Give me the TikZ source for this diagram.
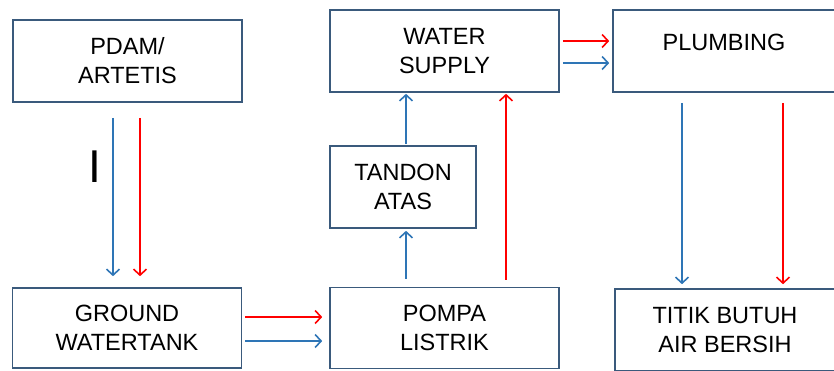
\documentclass[tikz,border=0pt]{standalone}
\usepackage{fontspec}
\setmainfont{Liberation Sans}
\usepackage{tikz}
\usetikzlibrary{arrows.meta,positioning}
\definecolor{boxc}{HTML}{3A5A7C}
\definecolor{bluec}{HTML}{2E75B6}
\definecolor{redc}{HTML}{FF0000}
\tikzset{
  unit/.style   ={draw=boxc,line width=1.6pt,align=center,inner sep=0pt,
                  font=\fontsize{23.5}{29}\selectfont},
  wide/.style   ={unit,minimum width=229pt,minimum height=82pt},
  flow/.style   ={-{Straight Barb[length=6pt,width=13pt]},line width=1.6pt},
  cold/.style   ={flow,bluec},
  hot/.style    ={flow,redc},
}

\begin{document}
\begin{tikzpicture}[x=1pt,y=-1pt]
    \useasboundingbox (0,0) rectangle (834,370);

    % left column
    \node[wide] (pdam)   at (127.5, 61) {PDAM/\\ARTETIS};
    \node[wide,minimum height=80pt] (ground) at (127,328) {GROUND\\WATERTANK};
    \node[font=\fontsize{46}{46}\selectfont] (mark) at (95,167) {I};
    % middle column
    \node[wide] (supply) at (444.5, 51) {WATER\\SUPPLY};
    \node[unit,minimum width=146pt,minimum height=82pt] (tandon) at (403,187) {TANDON\\ATAS};
    \node[wide,minimum height=81pt] (pompa) at (444.5,328) {POMPA\\LISTRIK};
    % right column
    \node[wide,minimum width=222pt,text depth=18pt] (plumb) at (724, 51) {PLUMBING};
    \node[wide,minimum width=220pt] (titik) at (725,330) {TITIK BUTUH\\AIR BERSIH};

    % flows
    \draw[cold] ([xshift=-14.5pt,yshift=-15pt]pdam.south) -- ([xshift=-14pt,yshift=11pt]ground.north);
    \draw[hot]  ([xshift=12.5pt,yshift=-15pt]pdam.south)  -- ([xshift=13pt,yshift=11pt]ground.north);
    \draw[hot]  ([xshift=3pt,yshift=11pt]ground.east) -- ([xshift=-7pt,yshift=11pt]pompa.west);
    \draw[cold] ([xshift=3pt,yshift=-13pt]ground.east)  -- ([xshift=-7pt,yshift=-13pt]pompa.west);
    \draw[cold] ([xshift=3pt,yshift=8pt]pompa.north -| tandon.south) -- ([xshift=3pt,yshift=-2pt]tandon.south);
    \draw[cold] ([xshift=3pt,yshift=1pt]tandon.north) -- ([xshift=3pt,yshift=-1pt]supply.south -| tandon.north);
    \draw[hot]  ([xshift=61.5pt,yshift=7pt]pompa.north) -- ([xshift=61.5pt,yshift=-1pt]supply.south);
    \draw[hot]  ([xshift=3pt,yshift=10pt]supply.east) -- ([xshift=-3pt,yshift=10pt]plumb.west);
    \draw[cold] ([xshift=3pt,yshift=-12pt]supply.east)  -- ([xshift=-3pt,yshift=-12pt]plumb.west);
    \draw[cold] ([xshift=-42pt,yshift=-10pt]plumb.south) -- ([xshift=-43pt,yshift=4pt]titik.north);
    \draw[hot]  ([xshift=59pt,yshift=-10pt]plumb.south)  -- ([xshift=58pt,yshift=4pt]titik.north);
\end{tikzpicture}
\end{document}
